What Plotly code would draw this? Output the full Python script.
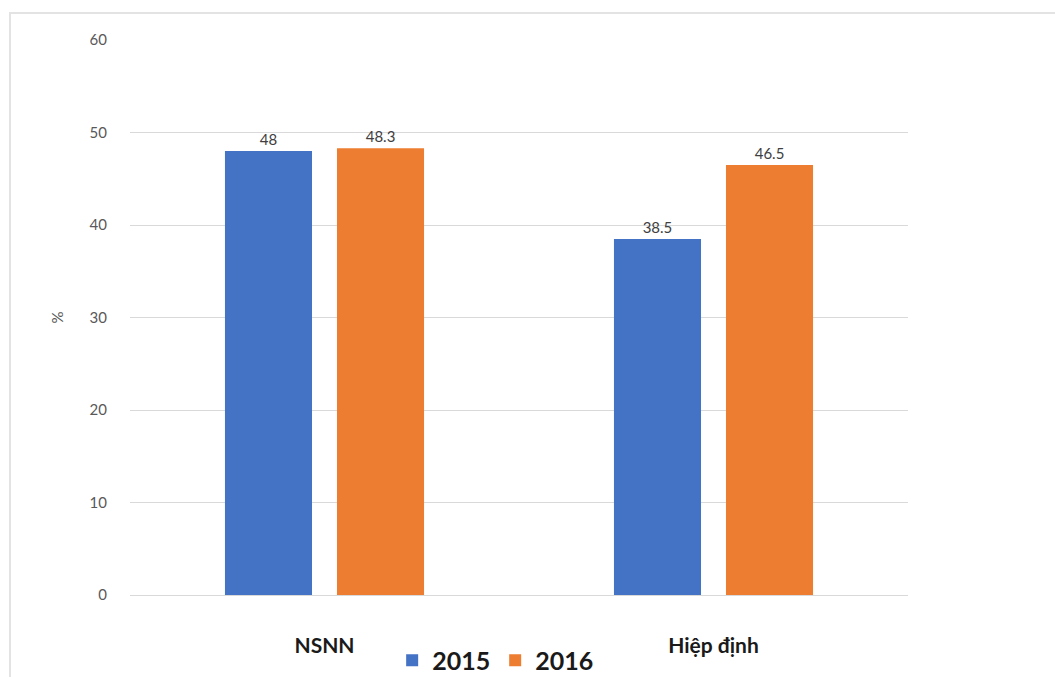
import plotly.graph_objects as go

categories = ["NSNN", "Hiệp định"]
series_names = ["2015", "2016"]
values_2015 = [48, 38.5]
values_2016 = [48.3, 46.5]
y_ticks = [0, 10, 20, 30, 40, 50, 60]

colors = ["#4472C4", "#ED7D31"]

fig = go.Figure()
for name, vals, col in zip(series_names, [values_2015, values_2016], colors):
    fig.add_trace(go.Bar(
        x=categories, y=vals, name=name,
        marker=dict(color=col, line=dict(width=0)),
        text=[str(v) for v in vals], textposition="outside",
        textfont=dict(family="Lato, 'Open Sans', sans-serif", size=15, color="#404040"),
        cliponaxis=False,
    ))

fig.update_layout(
    width=1055, height=677,
    margin=dict(l=130, r=147, t=40, b=82, autoexpand=False),
    paper_bgcolor="white", plot_bgcolor="white",
    barmode="group", bargap=0.424, bargroupgap=0.223,
    font=dict(family="Lato, 'Open Sans', sans-serif", color="#595959"),
    showlegend=True,
    legend=dict(orientation="h", x=0.47, xanchor="center", y=-0.118, yanchor="middle",
                font=dict(size=25, color="#1a1a1a", family="Lato, sans-serif", weight="bold"),
                itemwidth=30, traceorder="normal", bgcolor="rgba(0,0,0,0)"),
    xaxis=dict(showline=False, ticks="", automargin=False,
               tickfont=dict(size=21, color="#1a1a1a", weight="bold"),
               ticklabelstandoff=36),
    yaxis=dict(range=[0, 60], tickvals=y_ticks, showgrid=True, gridcolor="#d9d9d9", gridwidth=1,
               automargin=False,
               zeroline=True, zerolinecolor="#d9d9d9", zerolinewidth=1,
               tickfont=dict(size=15, color="#595959"), ticklabelstandoff=22,
               title=dict(text="%", font=dict(size=15, color="#595959"), standoff=22)),
    shapes=[dict(type="rect", xref="paper", yref="paper",
                 x0=(10 - 130) / 778, x1=1.2, y0=-0.3, y1=(595 - 13) / 555,
                 line=dict(color="#e3e3e3", width=2), fillcolor="rgba(0,0,0,0)", layer="below")],
)

fig.write_html("out.html")
